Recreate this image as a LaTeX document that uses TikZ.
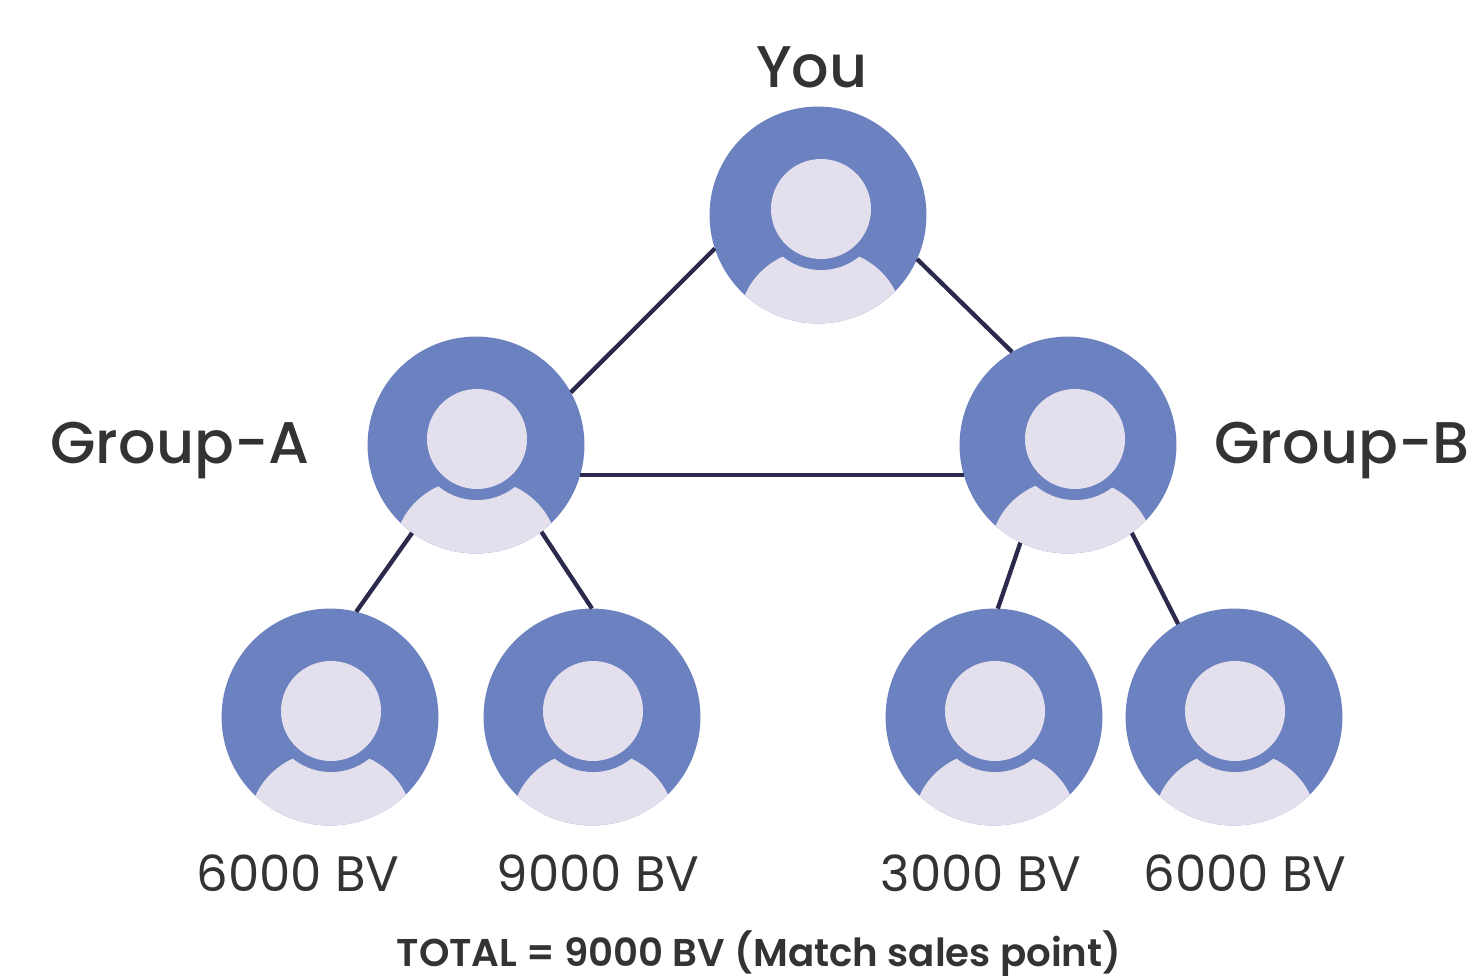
\documentclass[tikz,border=0pt]{standalone}
\usepackage{fontspec}
\setmainfont{Poppins}
\newfontfamily\poppinsmed{Poppins Medium}
\newfontfamily\poppinssemi{Poppins SemiBold}
\definecolor{avatarblue}{HTML}{6C82C0}
\definecolor{avatarpale}{HTML}{E4DFEC}
\definecolor{linkdark}{HTML}{2B2A4C}
\definecolor{labeldark}{HTML}{333333}
\tikzset{
	x=0.0254cm,y=-0.0254cm,
	person/.style={draw=none,circle,fill=avatarblue,inner sep=0,outer sep=0,minimum size=5.51cm},
	link/.style={draw=linkdark,line width=0.11cm},
	lbl/.style={text=labeldark,font=\poppinsmed\fontsize{42.5}{50}\selectfont,inner sep=0},
	bv/.style={text=labeldark,font=\fontsize{36}{42}\selectfont,inner sep=0}
}
\begin{document}
\begin{tikzpicture}
	\useasboundingbox (0,0) rectangle (1469,976);
	\node[person] (you) at (818,215) {};
	\node[person] (a) at (476,445) {};
	\node[person] (b) at (1068,445) {};
	\node[person] (a1) at (330,717) {};
	\node[person] (a2) at (592,717) {};
	\node[person] (b1) at (994,717) {};
	\node[person] (b2) at (1234,717) {};
	\draw[link] (you.198) -- (a.29);
	\draw[link] (you.336) -- (b.121);
	\draw[link] (a.344) -- (b.196);
	\draw[link] (a.234) -- (a1.76);
	\draw[link] (a.307) -- (a2.90);
	\draw[link] (b.244) -- (b1.88);
	\draw[link] (b.306) -- (b2.121);
	\foreach \n/\hx/\bx in {you/3/3,a/1/0,b/7/4,a1/1/1,a2/1/1,b1/1/1,b2/1/1}{
		\begin{scope}[shift={(\n.center)}]
			\begin{scope}
				\clip (0,0) circle (108.5);
				\fill[avatarpale] (\bx,105) ellipse (81 and 72);
				\fill[avatarblue] (\hx,-6) circle (61);
			\end{scope}
			\fill[avatarpale] (\hx,-6) circle (50);
		\end{scope}
	}
	\node[lbl] (youlbl) at (812,67) {You};
	\node[lbl] (grouplbla) at (180,451) {Group-A};
	\node[lbl] (grouplblb) at (1342,451) {Group-B};
	\node[bv] (bva1) at (298,873) {6000 BV};
	\node[bv] (bva2) at (598,873) {9000 BV};
	\node[bv] (bvb1) at (981,873) {3000 BV};
	\node[bv] (bvb2) at (1245,873) {6000 BV};
	\node[lbl,font=\poppinssemi\fontsize{28}{34}\selectfont] (total) at (759,954) {TOTAL = 9000 BV (Match sales point)};
\end{tikzpicture}
\end{document}
